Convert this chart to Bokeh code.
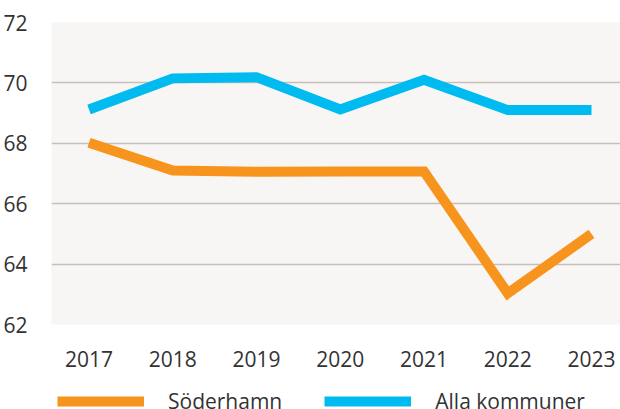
from bokeh.plotting import figure
from bokeh.models import Legend, LegendItem, FixedTicker, Range1d
from bokeh.layouts import column
from bokeh.embed import file_html
from bokeh.resources import INLINE

years = [2017, 2018, 2019, 2020, 2021, 2022, 2023]
soderhamn = [68.02, 67.1, 67.06, 67.07, 67.07, 63.03, 65.0]
alla = [69.12, 70.15, 70.19, 69.12, 70.1, 69.1, 69.1]
y_ticks = [62, 64, 66, 68, 70, 72]
names = ["Söderhamn", "Alla kommuner"]
colors = ["#f7941d", "#00bbf0"]

FONT = "Open Sans"
TXT = "#333333"

p = figure(width=620, height=372, output_backend="svg", toolbar_location=None,
           x_range=Range1d(2016.552, 2023.346), y_range=Range1d(62, 72),
           min_border_left=51, min_border_right=0, min_border_top=22, min_border_bottom=48)
p.background_fill_color = "#f8f6f4"
p.border_fill_color = "white"
p.outline_line_color = None

p.line(years, soderhamn, line_color=colors[0], line_width=10, line_join="miter", line_cap="butt")
p.line(years, alla, line_color=colors[1], line_width=10, line_join="miter", line_cap="butt")

p.xgrid.grid_line_color = None
p.ygrid.grid_line_color = "#c8bfba"
p.ygrid.grid_line_width = 1.5
p.ygrid.ticker = FixedTicker(ticks=y_ticks)

p.xaxis.ticker = FixedTicker(ticks=years)
p.yaxis.ticker = FixedTicker(ticks=y_ticks)
for ax in (p.xaxis[0], p.yaxis[0]):
    ax.axis_line_color = None
    ax.major_tick_line_color = None
    ax.minor_tick_line_color = None
    ax.major_label_text_font = FONT
    ax.major_label_text_font_size = "21px"
    ax.major_label_text_color = TXT
p.xaxis.major_label_standoff = 20
p.yaxis.major_label_standoff = 18

# legend strip (same series, drawn outside its own visible range; only the legend shows)
q = figure(width=620, height=37, output_backend="svg", toolbar_location=None,
           x_range=Range1d(0, 1), y_range=Range1d(0, 1),
           min_border_left=0, min_border_right=0, min_border_top=0, min_border_bottom=0)
q.axis.visible = False
q.grid.visible = False
q.outline_line_color = None
q.background_fill_color = "white"
q.border_fill_color = "white"
l1 = q.line(years, soderhamn, line_color=colors[0], line_width=10, line_cap="butt")
l2 = q.line(years, alla, line_color=colors[1], line_width=10, line_cap="butt")

legend = Legend(items=[LegendItem(label=names[0], renderers=[l1]),
                       LegendItem(label=names[1], renderers=[l2])],
                orientation="horizontal", location=(6, -7),
                glyph_width=87, glyph_height=30, label_standoff=24, spacing=42,
                padding=0, margin=0, border_line_color=None, background_fill_alpha=0,
                label_text_font=FONT, label_text_font_size="21px", label_text_color=TXT)
q.add_layout(legend, "center")

layout = column(p, q, spacing=0)
open("out.html", "w").write(file_html(layout, INLINE))
